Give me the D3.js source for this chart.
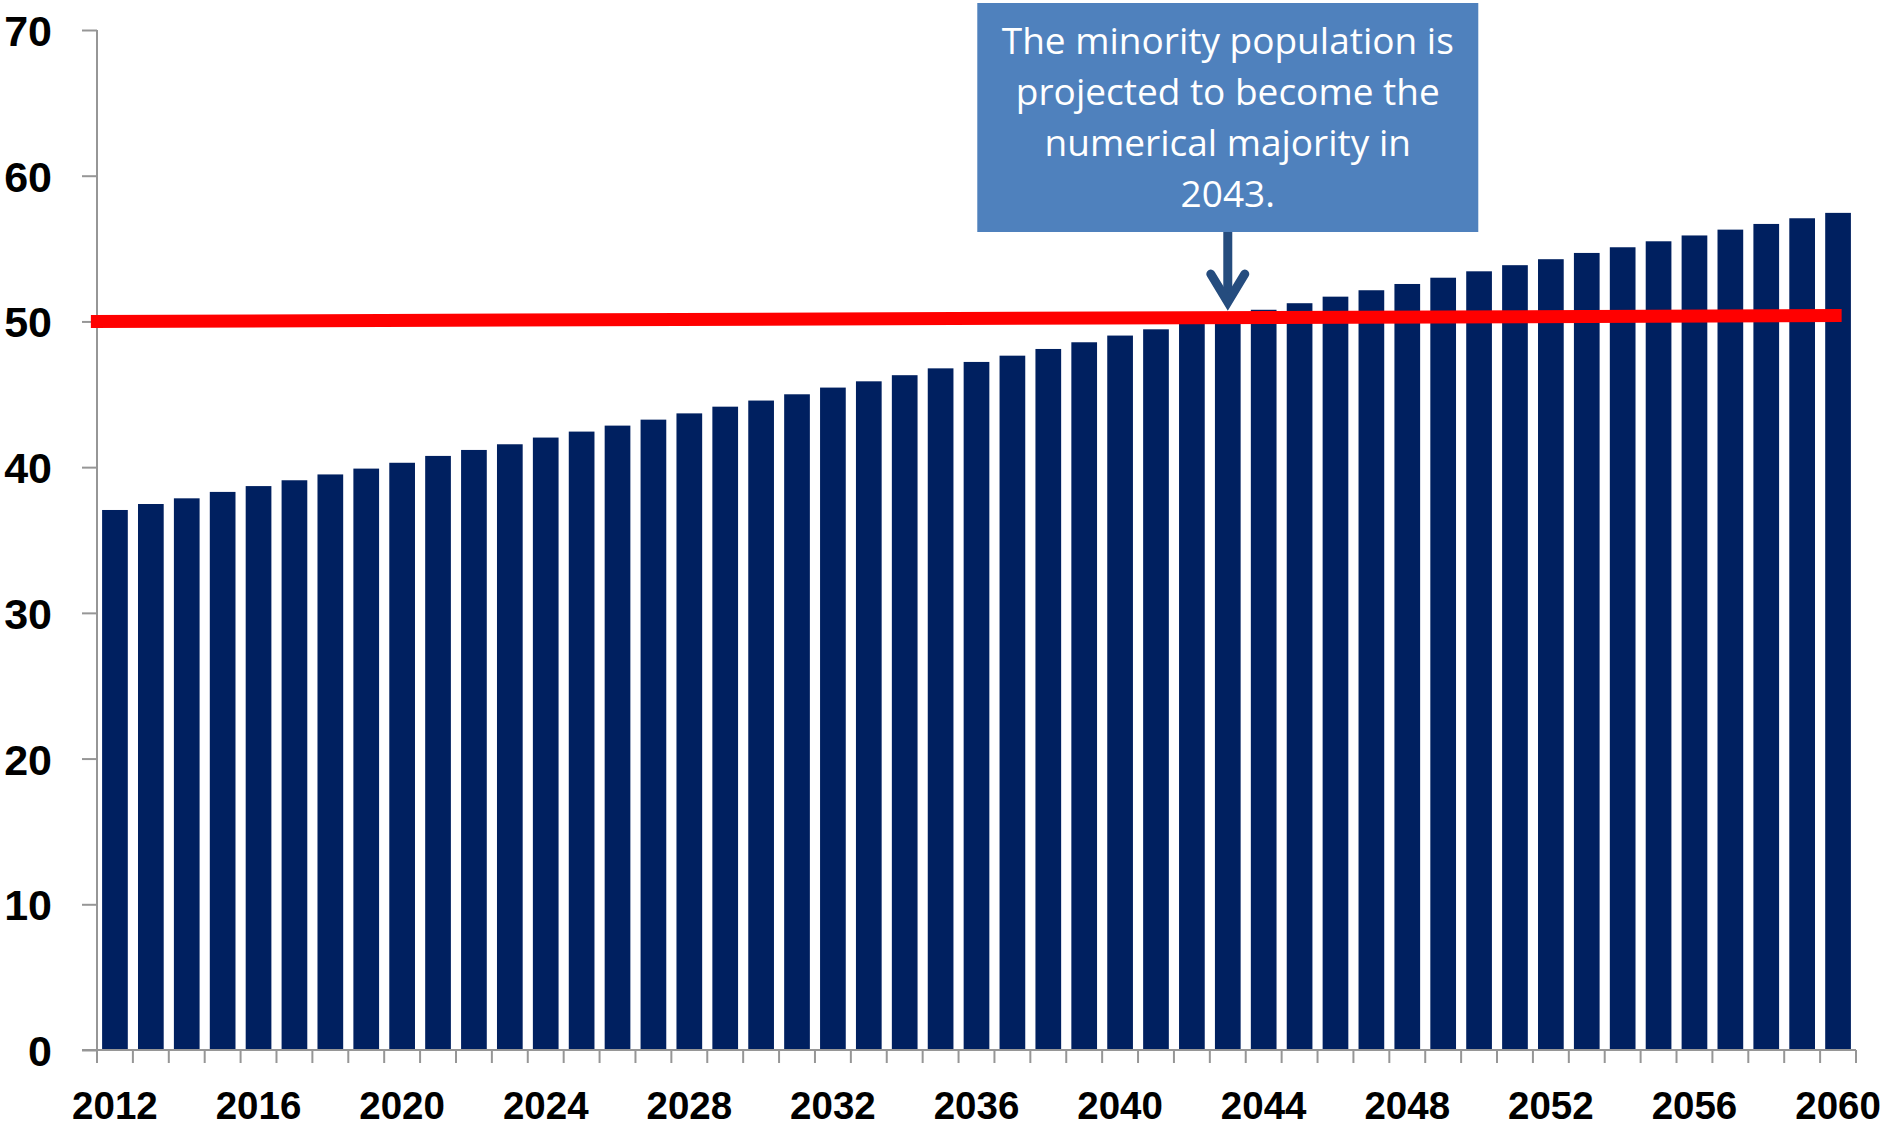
<!DOCTYPE html>
<html>
<head>
<meta charset="utf-8">
<script src="https://cdn.jsdelivr.net/npm/d3@7"></script>
<style>
  html, body { margin: 0; padding: 0; background: #fff; }
  svg { display: block; }
</style>
</head>
<body>
<svg id="chart" width="1884" height="1131"></svg>
<script>
// ---- data ----
const years = d3.range(2012, 2061).map(String);
const minorityShare = [
  37.06, 37.47, 37.86, 38.30, 38.70, 39.10, 39.50, 39.90, 40.30, 40.77,
  41.18, 41.57, 42.03, 42.44, 42.85, 43.26, 43.69, 44.15, 44.57, 45.00,
  45.46, 45.89, 46.31, 46.78, 47.22, 47.65, 48.11, 48.57, 49.03, 49.46,
  49.90, 50.35, 50.80, 51.25, 51.70, 52.14, 52.57, 53.00, 53.44, 53.86,
  54.27, 54.70, 55.09, 55.50, 55.90, 56.30, 56.69, 57.08, 57.45
];
const xTickLabels = ["2012","2016","2020","2024","2028","2032","2036","2040","2044","2048","2052","2056","2060"];
const yTicks = [0, 10, 20, 30, 40, 50, 60, 70];
// majority line (year position, value)
const majorityLineYears = [2011.33, 2060.1];
const majorityLineValues = [50.0, 50.4];
const annotationYear = "2043";
const annotationLines = ["The minority population is", "projected to become the", "numerical majority in", "2043."];

// ---- layout ----
const mLeft = 97, mRight = 1856, mTop = 30, mBottom = 1050;
const svg = d3.select("#chart");

const x = d3.scaleBand().domain(years).range([mLeft, mRight]).paddingInner(0.284).paddingOuter(0.142);
const xBand = d3.scaleBand().domain(years).range([mLeft, mRight]).padding(0);
const xLin = d3.scaleLinear().domain([2011.5, 2060.5]).range([mLeft, mRight]);
const y = d3.scaleLinear().domain([0, 70]).range([mBottom, mTop]);

// bars
svg.append("g").selectAll("rect").data(years).join("rect")
  .attr("x", d => x(d))
  .attr("width", x.bandwidth())
  .attr("y", (d, i) => y(minorityShare[i]))
  .attr("height", (d, i) => y(0) - y(minorityShare[i]))
  .attr("fill", "#002060");

// y axis
const axisColor = "#969696";
const yAxis = svg.append("g").attr("transform", `translate(${mLeft},0)`)
  .call(d3.axisLeft(y).tickValues(yTicks).tickSize(15).tickPadding(30).tickFormat(d3.format("d")));
yAxis.select(".domain").attr("stroke", axisColor).attr("stroke-width", 2).attr("d", `M0,${mTop}V${mBottom}`);
yAxis.selectAll(".tick line").attr("stroke", axisColor).attr("stroke-width", 2);
yAxis.selectAll(".tick text")
  .attr("font-family", "'Liberation Sans', Arial, sans-serif")
  .attr("font-weight", "bold").attr("font-size", 43).attr("fill", "#000")
  .attr("dy", "0.36em");

// x axis: ticks at band boundaries
const boundaries = years.map(d => xBand(d)).concat([mRight]);
const xg = svg.append("g");
xg.append("line").attr("x1", mLeft - 15).attr("x2", mRight).attr("y1", mBottom).attr("y2", mBottom)
  .attr("stroke", axisColor).attr("stroke-width", 2);
xg.selectAll("line.tk").data(boundaries).join("line").attr("class", "tk")
  .attr("x1", d => d).attr("x2", d => d).attr("y1", mBottom).attr("y2", mBottom + 13)
  .attr("stroke", axisColor).attr("stroke-width", 2);
xg.selectAll("text").data(xTickLabels).join("text")
  .attr("x", d => xBand(d) + xBand.bandwidth() / 2)
  .attr("y", 1119)
  .attr("text-anchor", "middle")
  .attr("font-family", "'Liberation Sans', Arial, sans-serif")
  .attr("font-weight", "bold").attr("font-size", 38.5).attr("fill", "#000")
  .text(d => d);

// majority red line
svg.append("line")
  .attr("x1", xLin(majorityLineYears[0])).attr("y1", y(majorityLineValues[0]))
  .attr("x2", xLin(majorityLineYears[1])).attr("y2", y(majorityLineValues[1]))
  .attr("stroke", "#FF0000").attr("stroke-width", 13);

// annotation box
const ax = xBand(annotationYear) + xBand.bandwidth() / 2;
const boxW = 501, boxTop = 3, boxBottom = 232;
svg.append("rect").attr("x", ax - boxW / 2).attr("y", boxTop).attr("width", boxW).attr("height", boxBottom - boxTop)
  .attr("fill", "#4F81BD");
svg.append("g").selectAll("text").data(annotationLines).join("text")
  .attr("x", ax).attr("y", (d, i) => 54 + i * 51)
  .attr("text-anchor", "middle")
  .attr("font-family", "'Open Sans', sans-serif")
  .attr("font-size", 37).attr("fill", "#fff")
  .text(d => d);

// arrow
const arrowColor = "#254C7E";
const tipY = 305;
svg.append("line").attr("x1", ax).attr("x2", ax).attr("y1", boxBottom).attr("y2", tipY - 3)
  .attr("stroke", arrowColor).attr("stroke-width", 9);
svg.append("path")
  .attr("d", `M${ax - 17},${tipY - 31} L${ax},${tipY - 3} L${ax + 17},${tipY - 31}`)
  .attr("fill", "none").attr("stroke", arrowColor).attr("stroke-width", 9)
  .attr("stroke-linecap", "round").attr("stroke-linejoin", "miter");
</script>
</body>
</html>
